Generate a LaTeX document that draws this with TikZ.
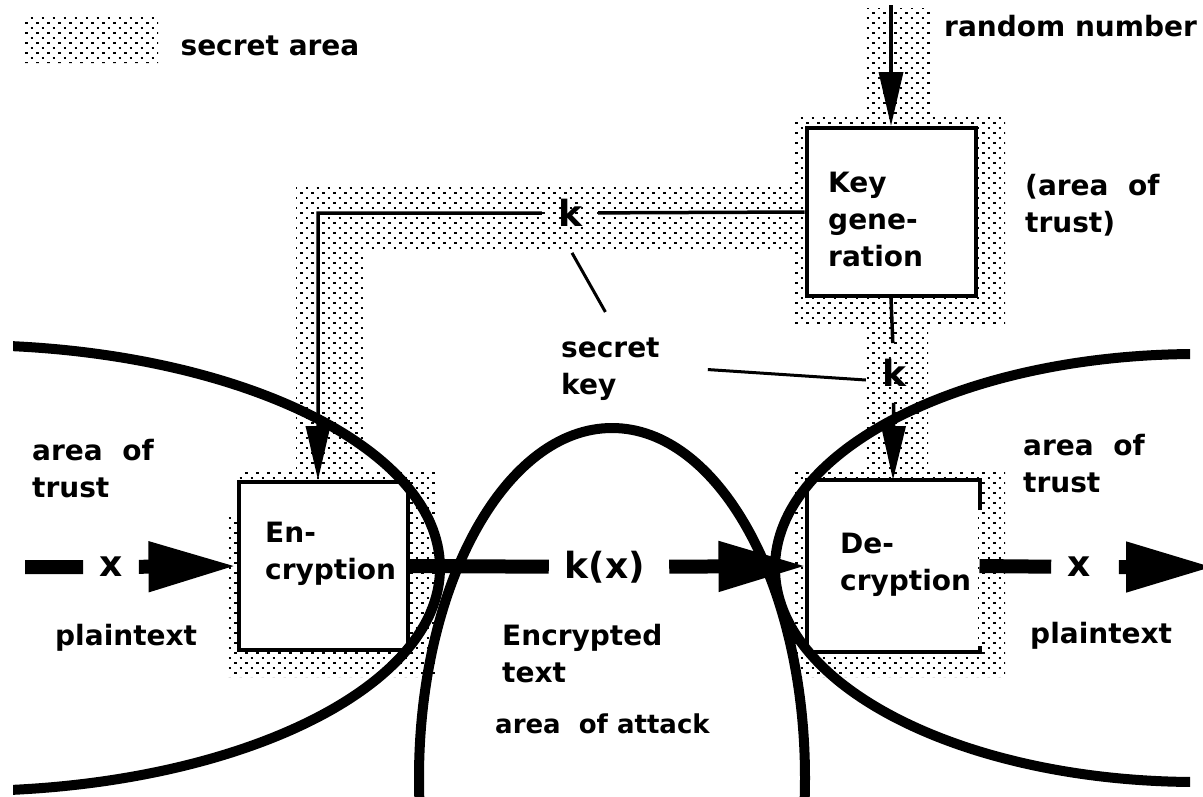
\documentclass[tikz,border=0pt]{standalone}
\usepackage{fontspec}
\setmainfont{DejaVu Sans}
\usepackage{tikz}
\usetikzlibrary{arrows.meta,positioning}

\begin{document}
\begin{tikzpicture}[x=1pt, y=-1pt,
    lbl/.style={font=\fontsize{28}{37}\selectfont\bfseries, align=left, inner sep=0pt},
    biglbl/.style={font=\fontsize{36}{40}\selectfont\bfseries, inner sep=16pt},
    procbox/.style={rectangle, draw, line width=4pt, fill=white, minimum width=169pt, minimum height=168pt, inner sep=0pt},
    dotrow/.style={line width=2.6pt, dash pattern=on 2.6pt off 8.4pt},
    keyflow/.style={line width=3.5pt, -{Triangle[length=54pt,width=24pt]}},
    flow/.style={line width=14pt, -{Triangle[length=88pt,width=47pt]}},
    pointer/.style={line width=3pt},
    trust/.style={line width=10pt}]

    \useasboundingbox (0,0) rectangle (1203,796);
    \clip (0,0) rectangle (1203,796);

    % secret area
    \begin{scope}
        \clip (25,15) rectangle (158,63) (865,8) rectangle (930,115) (793,115) rectangle (1005,325)
            (296,187) rectangle (793,250) (296,187) rectangle (364,470)
            (865,325) rectangle (928,470) (237,469) rectangle (437,677)
            (228,517) rectangle (237,677) (793,469) rectangle (1005,677);
        \foreach \r in {0,...,136} {
            \pgfmathsetmacro\ph{mod(\r,2)*5.5}
            \draw[dotrow, dash phase=\ph pt] (14,\r*5+3) -- (1012,\r*5+3);
        }
    \end{scope}

    \node[minimum width=133pt, minimum height=48pt, inner sep=0pt, anchor=north west] (legend) at (25,15) {};
    \node[lbl, right=22pt of legend, yshift=-7pt] (legendtxt) {secret area};

    \node[procbox] (keygen) at (891,212) {};
    \node[procbox] (encbox) at (323,566) {};
    \node[procbox, draw=none] (decbox) at (893,566) {};
    \draw[line width=4pt] ([yshift=-30pt]decbox.north east) -- (decbox.north east) -- (decbox.north west)
        -- (decbox.south west) -- (decbox.south east) -- ([yshift=6pt]decbox.south east);

    \node[lbl, anchor=north west] (keytxt) at (828,172) {Key\\gene-\\ration};
    \node[lbl, anchor=north west] (enctxt) at (265,522) {En-\\cryption};
    \node[lbl, anchor=north west] (dectxt) at (840,533) {De-\\cryption};

    \node[lbl, anchor=base west] (rndtxt) at (944,36) {random number};
    \node[lbl, anchor=north west] (kgtrust) at (1025,174) {(area\ \ of\\trust)};
    \node[lbl, anchor=north west] (skey) at (561,338) {secret\\key};
    \node[lbl, anchor=north west] (ltrust) at (32,439) {area\ \ of\\trust};
    \node[lbl, anchor=north west] (rtrust) at (1023,434) {area\ \ of\\trust};
    \node[lbl, anchor=base west] (lplain) at (55,645) {plaintext};
    \node[lbl, anchor=base west] (rplain) at (1030,643) {plaintext};
    \node[lbl, anchor=north west] (enctext) at (502,624) {Encrypted\\text};
    \node[lbl, anchor=base west, font=\fontsize{26}{30}\selectfont\bfseries] (attack) at (495,733) {area\ \ of attack};

    \node[biglbl] (ktop) at (570,213) {k};
    \node[biglbl] (kright) at (894,373) {k};
    \node[biglbl] (xin) at (111,567) {x};
    \node[biglbl] (kx) at (605,567) {k(x)};
    \node[biglbl] (xout) at (1079,567) {x};

    \coordinate (rnd) at (891,5);
    \coordinate (inL) at (25,567);
    \coordinate (outR) at (1214,567);

    \draw[keyflow] (rnd) -- (keygen.north);
    \draw[keyflow] (keygen.west) -- (ktop) -| ([xshift=-5pt]encbox.north);
    \draw[keyflow] (keygen.south) -- (kright) -- (decbox.north);
    \draw[flow] (inL) -- (xin) -- (encbox.west);
    \draw[flow, shorten <=8pt] (encbox.east) -- (kx) -- (decbox.west);
    \draw[flow, shorten <=12pt] (decbox.east) -- (xout) -- (outR);
    \draw[pointer] ([shift={(2,10)}]ktop.south) -- ([shift={(-5,-26)}]skey.north);
    \draw[pointer] ([xshift=48pt]skey.east) -- ([yshift=-7pt]kright.west);

    % areas of trust and attack
    \begin{scope}
        \clip (13,0) rectangle (1190,796);
        \draw[trust] (-36,568) ellipse [x radius=476, y radius=223];
        \draw[trust] (1197,568) ellipse [x radius=422, y radius=214];
        \draw[trust] (612,778) ellipse [x radius=193, y radius=350];
    \end{scope}
\end{tikzpicture}
\end{document}
